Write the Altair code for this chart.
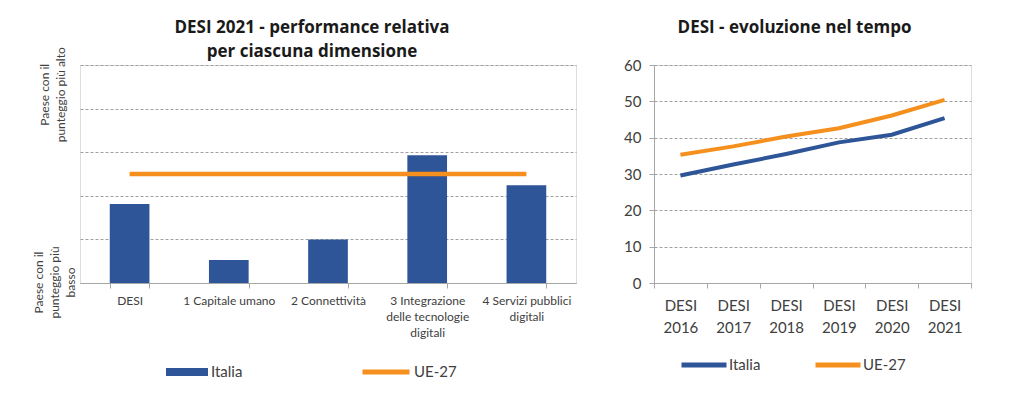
import altair as alt
import pandas as pd

# ---------------- data ----------------
dimensioni = [
    "DESI",
    "1 Capitale umano",
    "2 Connettività",
    "3 Integrazione\ndelle tecnologie\ndigitali",
    "4 Servizi pubblici\ndigitali",
]
italia_dim = [1.81, 0.53, 1.0, 2.93, 2.24]
ue_dim = [2.5, 2.5, 2.5, 2.5, 2.5]

anni = ["DESI 2016", "DESI 2017", "DESI 2018", "DESI 2019", "DESI 2020", "DESI 2021"]
italia_anni = [29.6, 32.6, 35.5, 38.7, 40.8, 45.4]
ue_anni = [35.3, 37.6, 40.3, 42.6, 46.1, 50.4]

serie = ["Italia", "UE-27"]
# 4.65 carries only the upper label (no grid line there)
y_left_ticks = [0, 1, 2, 3, 4, 4.65, 5]
y_right_ticks = [0, 10, 20, 30, 40, 50, 60]

BLUE = "#2E5597"
ORANGE = "#F5901F"
FONT = "Lato"
TFONT = "Open Sans"
TXT = "#404040"
GRID = "#a0a0a0"
AXC = "#a6a6a6"

bars_df = pd.DataFrame({"dim": dimensioni, "val": italia_dim, "serie": serie[0]})
ue_df = pd.DataFrame({"dim": dimensioni, "val": ue_dim, "serie": serie[1]})
right_df = pd.DataFrame({
    "anno": anni + anni,
    "val": italia_anni + ue_anni,
    "serie": [serie[0]] * len(anni) + [serie[1]] * len(anni),
})

IS_TOP = "datum.value > 4.5 && datum.value < 4.9"

# ---------------- left chart ----------------
x_left = alt.X(
    "dim:N", sort=dimensioni, title=None,
    scale=alt.Scale(type="band", paddingInner=0.6, paddingOuter=0.3),
    axis=alt.Axis(
        labelAngle=0, labelExpr="split(datum.label, '\\n')",
        labelFont=FONT, labelFontSize=12, labelLineHeight=16, labelColor=TXT,
        tickBand="extent", tickSize=5, tickColor=AXC, domainColor=AXC,
        labelPadding=7, grid=False, labelLimit=300,
    ),
)
y_left = alt.Y(
    "val:Q", title=None,
    scale=alt.Scale(domain=[0, 5], nice=False, zero=True),
    axis=alt.Axis(
        values=y_left_ticks, grid=True, gridDash=[3, 2], gridColor=GRID,
        gridOpacity={"condition": {"test": IS_TOP, "value": 0}, "value": 1},
        domain=False, ticks=False, labelOverlap=False,
        labelExpr=("(" + IS_TOP + ") ? ['Paese con il', 'punteggio più alto'] : "
                   "(datum.value == 0 ? ['Paese con il', 'punteggio più', 'basso'] : '')"),
        labelAngle=-90, labelAlign="center", labelBaseline="bottom",
        labelFont=FONT, labelFontSize=12, labelLineHeight=16, labelColor=TXT,
        labelOffset={"condition": {"test": IS_TOP, "value": 14}, "value": -1},
        labelPadding={"condition": {"test": IS_TOP, "value": 29}, "value": 35},
        labelLimit=300,
    ),
)

bars = alt.Chart(bars_df).mark_bar().encode(
    x=x_left, y=y_left,
    fill=alt.Fill(
        "serie:N",
        scale=alt.Scale(domain=[serie[0]], range=[BLUE]),
        legend=alt.Legend(
            title=None, orient="none", legendX=86, legendY=286,
            symbolType="M-1,-0.19H1V0.19H-1Z", symbolSize=1764, symbolStrokeWidth=0,
            labelFont=FONT, labelFontSize=15, labelColor=TXT, labelOffset=3,
        ),
    ),
)
ue_line = alt.Chart(ue_df).mark_line(strokeWidth=4.5).encode(
    x=x_left, y=y_left,
    stroke=alt.Stroke(
        "serie:N",
        scale=alt.Scale(domain=[serie[1]], range=[ORANGE]),
        legend=alt.Legend(
            title=None, orient="none", legendX=280, legendY=281,
            symbolType="stroke", symbolSize=2209, symbolStrokeWidth=5,
            labelFont=FONT, labelFontSize=15, labelColor=TXT, labelOffset=2,
        ),
    ),
)

left = alt.layer(bars, ue_line).properties(
    width=496, height=218,
    title=alt.TitleParams(
        ["DESI 2021 - performance relativa", "per ciascuna dimensione"],
        font=TFONT, fontSize=17, fontWeight="bold", color="#1a1a1a",
        lineHeight=24, anchor="middle", dx=-16, offset=-14,
    ),
)

# ---------------- right chart ----------------
right = alt.Chart(right_df).mark_line(strokeWidth=4).encode(
    x=alt.X(
        "anno:N", sort=anni, title=None,
        scale=alt.Scale(type="band", paddingInner=0, paddingOuter=0),
        axis=alt.Axis(
            labelAngle=0, labelExpr="split(datum.label, ' ')",
            labelFont=FONT, labelFontSize=15, labelLineHeight=22, labelColor=TXT,
            tickBand="extent", tickSize=5, tickColor=AXC, domainColor=AXC,
            labelPadding=10, grid=False,
        ),
    ),
    y=alt.Y(
        "val:Q", title=None,
        scale=alt.Scale(domain=[0, 60], nice=False),
        axis=alt.Axis(
            values=y_right_ticks, grid=True, gridDash=[3, 2], gridColor=GRID,
            tickSize=5, tickColor=AXC, domainColor=AXC,
            labelFont=FONT, labelFontSize=15, labelColor=TXT, labelPadding=8,
        ),
    ),
    color=alt.Color(
        "serie:N",
        scale=alt.Scale(domain=serie, range=[BLUE, ORANGE]),
        legend=alt.Legend(
            title=None, orient="none", direction="horizontal",
            legendX=25, legendY=275,
            symbolType="stroke", symbolSize=2025, symbolStrokeWidth=5,
            columnPadding=44, labelFont=FONT, labelFontSize=15, labelColor=TXT,
            labelOffset=0,
        ),
    ),
).properties(
    width=317, height=218,
    title=alt.TitleParams(
        "DESI - evoluzione nel tempo",
        font=TFONT, fontSize=17, fontWeight="bold", color="#1a1a1a",
        anchor="middle", dx=-18, offset=21,
    ),
)

chart = alt.hconcat(left, right, spacing=78, bounds="flush").resolve_scale(
    x="independent", y="independent", fill="independent", stroke="independent", color="independent"
).resolve_legend(
    fill="independent", stroke="independent", color="independent"
).properties(
    padding={"left": 23, "top": 10, "right": 5, "bottom": 5},
).configure_view(stroke=None).configure(font=FONT)

chart.save("out.html", embed_options={"renderer": "svg", "actions": False})
